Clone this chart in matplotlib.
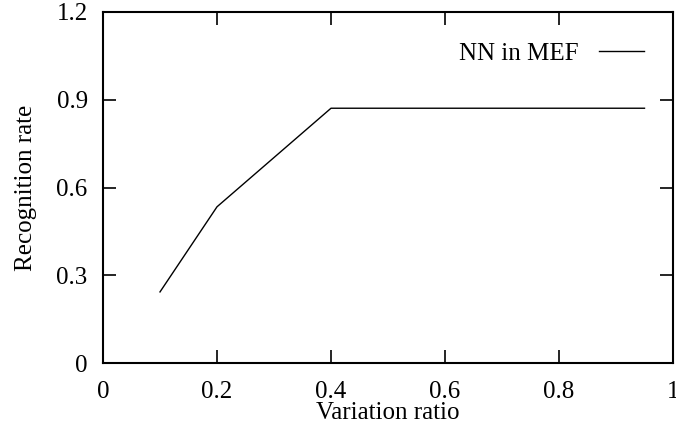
import matplotlib.pyplot as plt

# data
ratio = [0.1, 0.2, 0.4, 0.95]
rate = [0.243, 0.534, 0.871, 0.871]

xticks = [0, 0.2, 0.4, 0.6, 0.8, 1]
xticklabels = ['0', '0.2', '0.4', '0.6', '0.8', '1']
yticks = [0, 0.3, 0.6, 0.9, 1.2]
yticklabels = ['0', '0.3', '0.6', '0.9', '1.2']

plt.rcParams['font.family'] = ['Liberation Serif', 'DejaVu Serif']
plt.rcParams['font.size'] = 18

fig = plt.figure(figsize=(6.76, 4.29), dpi=100)
ax = fig.add_axes([103/676, 1 - 363/429, 570/676, 351/429])

ax.plot(ratio, rate, color='black', lw=1, label='NN in MEF')

ax.set_xlim(0, 1)
ax.set_ylim(0, 1.2)
ax.set_xticks(xticks)
ax.set_xticklabels(xticklabels)
ax.set_yticks(yticks)
ax.set_yticklabels(yticklabels)
ax.tick_params(direction='in', length=9.5, width=1.2, top=True, right=True,
               labelsize=18)
ax.tick_params(axis='x', pad=13)
ax.tick_params(axis='y', pad=11)
for s in ax.spines.values():
    s.set_linewidth(1.5)

ax.set_xlabel('Variation ratio', labelpad=-1)
ax.set_ylabel('Recognition rate', labelpad=14)

ax.legend(loc='upper right', frameon=False, markerfirst=False,
          handlelength=1.8, handletextpad=0.8, fontsize=18,
          bbox_to_anchor=(0.988, 0.977))

fig.savefig('out.png', dpi=100)
